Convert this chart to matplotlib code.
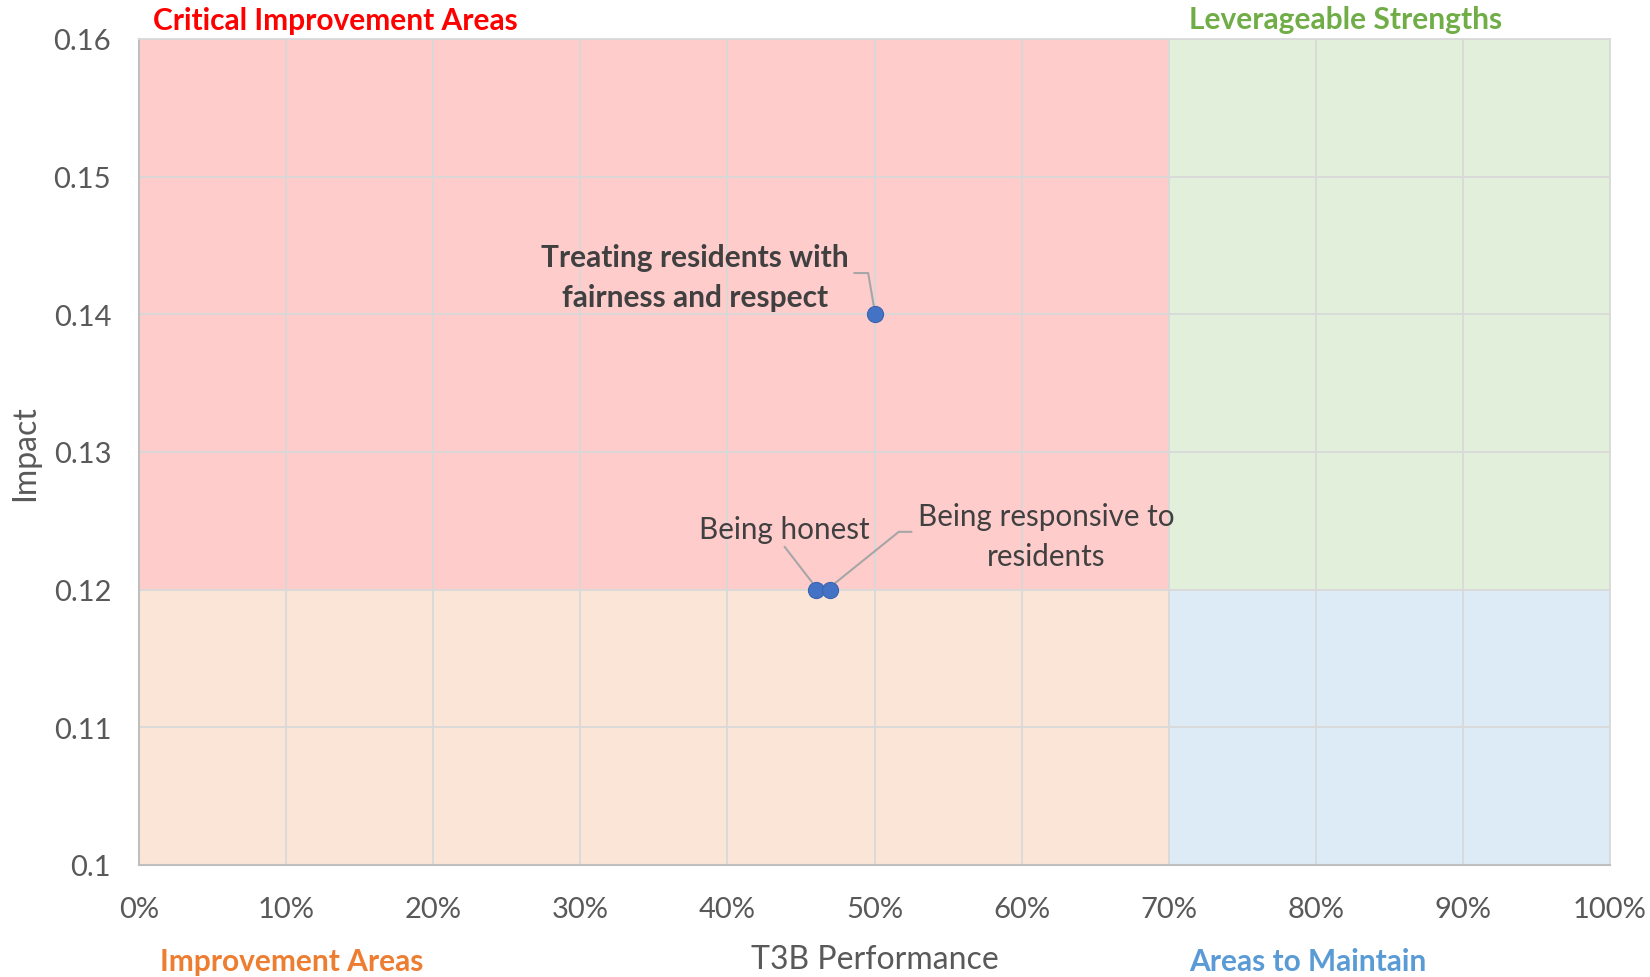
import matplotlib
matplotlib.use("Agg")
import matplotlib.pyplot as plt
from matplotlib.ticker import FuncFormatter

plt.rcParams['font.family'] = ['Lato', 'DejaVu Sans']

# ---- data ----
labels = ["Treating residents with\nfairness and respect", "Being honest", "Being responsive to\nresidents"]
performance = [0.50, 0.46, 0.47]
impact = [0.14, 0.12, 0.12]

x_split = 0.70
y_split = 0.12
x_min, x_max = 0.0, 1.0
y_min, y_max = 0.10, 0.16
x_ticks = [i / 10 for i in range(11)]
y_ticks = [0.10, 0.11, 0.12, 0.13, 0.14, 0.15, 0.16]
y_tick_labels = ["0.1", "0.11", "0.12", "0.13", "0.14", "0.15", "0.16"]

quad_titles = ["Critical Improvement Areas", "Leverageable Strengths", "Improvement Areas", "Areas to Maintain"]
quad_colors = ["#FF0000", "#70AD47", "#ED7D31", "#5B9BD5"]
quad_fills = ["#FFCCCC", "#E2EFDA", "#FBE5D6", "#DDEBF7"]

fig = plt.figure(figsize=(16.5, 9.78), dpi=100)
ax = fig.add_axes([139 / 1650, 1 - 866 / 978, (1610 - 139) / 1650, (866 - 40) / 978])

ys = (y_split - y_min) / (y_max - y_min)
ax.axvspan(x_min, x_split, ymin=ys, ymax=1, color=quad_fills[0], zorder=0, lw=0)
ax.axvspan(x_split, x_max, ymin=ys, ymax=1, color=quad_fills[1], zorder=0, lw=0)
ax.axvspan(x_min, x_split, ymin=0, ymax=ys, color=quad_fills[2], zorder=0, lw=0)
ax.axvspan(x_split, x_max, ymin=0, ymax=ys, color=quad_fills[3], zorder=0, lw=0)

ax.set_xlim(x_min, x_max)
ax.set_ylim(y_min, y_max)
ax.set_xticks(x_ticks)
ax.set_yticks(y_ticks)
ax.set_yticklabels(y_tick_labels)
ax.xaxis.set_major_formatter(FuncFormatter(lambda v, p: f"{v*100:.0f}%"))
ax.grid(True, color="#D9D9D9", lw=1.3, zorder=1)
ax.set_axisbelow(True)
ax.tick_params(length=0, labelsize=21, colors="#595959")
ax.tick_params(axis='y', pad=20)
ax.tick_params(axis='x', pad=22)
for s in ["top", "right"]:
    ax.spines[s].set_color("#D9D9D9")
    ax.spines[s].set_linewidth(1.3)
for s in ["left", "bottom"]:
    ax.spines[s].set_color("#BFBFBF")
    ax.spines[s].set_linewidth(1.5)

ax.set_xlabel("T3B Performance", fontsize=23, color="#595959", labelpad=16)
ax.set_ylabel("Impact", fontsize=23, color="#595959", labelpad=10)

ax.scatter(performance, impact, s=135, color="#4472C4", edgecolor="#3A64B0", lw=0.8, zorder=5)

# annotations with leader lines
lc = "#A6A6A6"
ax.text(0.3777, 0.1427, labels[0], ha="center", va="center", fontsize=21.5,
        fontweight="bold", color="#404040", linespacing=1.5, zorder=6)
ax.plot([0.4864, 0.4957, 0.500], [0.1430, 0.1430, 0.1403], color=lc, lw=1.5, zorder=4)

ax.text(0.4385, 0.1244, labels[1], ha="center", va="center", fontsize=21.3, color="#404040", zorder=6)
ax.plot([0.439, 0.46], [0.1231, 0.1202], color=lc, lw=1.5, zorder=4)

ax.text(0.6166, 0.1239, labels[2], ha="center", va="center", fontsize=21.3, color="#404040",
        linespacing=1.5, zorder=6)
ax.plot([0.47, 0.5165, 0.525], [0.1202, 0.1242, 0.1242], color=lc, lw=1.5, zorder=4)

# quadrant titles
fig.text(153 / 1650, 1 - 21 / 978, quad_titles[0], color=quad_colors[0], fontsize=21.5, fontweight="bold", ha="left", va="center")
fig.text(1189 / 1650, 1 - 20 / 978, quad_titles[1], color=quad_colors[1], fontsize=21.5, fontweight="bold", ha="left", va="center")
fig.text(160 / 1650, 1 - 962 / 978, quad_titles[2], color=quad_colors[2], fontsize=21.5, fontweight="bold", ha="left", va="center")
fig.text(1189 / 1650, 1 - 962 / 978, quad_titles[3], color=quad_colors[3], fontsize=21.5, fontweight="bold", ha="left", va="center")

fig.savefig("out.png", dpi=100)
